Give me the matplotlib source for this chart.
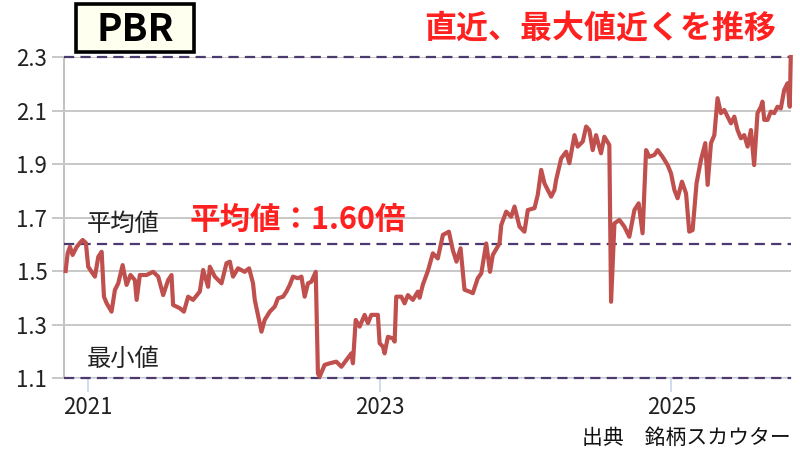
import matplotlib
matplotlib.use('Agg')
import matplotlib.pyplot as plt
from matplotlib.patches import Rectangle

plt.rcParams['font.family'] = ['Noto Sans CJK JP', 'DejaVu Sans']

# PBR series, time as decimal years
years = [
    2020.847, 2020.861, 2020.877, 2020.895, 2020.923, 2020.945, 2020.964, 2020.986,
    2021.002, 2021.025, 2021.048, 2021.071, 2021.094, 2021.110, 2021.128, 2021.162,
    2021.185, 2021.208, 2021.238, 2021.265, 2021.292, 2021.322, 2021.334, 2021.356,
    2021.402, 2021.447, 2021.482, 2021.516, 2021.550, 2021.573, 2021.584, 2021.630,
    2021.658, 2021.687, 2021.721, 2021.767, 2021.790, 2021.824, 2021.836, 2021.870,
    2021.916, 2021.950, 2021.973, 2021.995, 2022.029, 2022.075, 2022.105, 2022.132,
    2022.144, 2022.166, 2022.190, 2022.212, 2022.247, 2022.281, 2022.303, 2022.338,
    2022.361, 2022.384, 2022.406, 2022.440, 2022.464, 2022.486, 2022.509, 2022.532,
    2022.562, 2022.577, 2022.589, 2022.623, 2022.658, 2022.703, 2022.738, 2022.772,
    2022.806, 2022.817, 2022.836, 2022.863, 2022.897, 2022.920, 2022.943, 2022.988,
    2023.000, 2023.023, 2023.034, 2023.057, 2023.091, 2023.103, 2023.114, 2023.149,
    2023.171, 2023.194, 2023.228, 2023.262, 2023.274, 2023.297, 2023.331, 2023.365,
    2023.399, 2023.434, 2023.475, 2023.502, 2023.527, 2023.555, 2023.582, 2023.616,
    2023.639, 2023.673, 2023.697, 2023.731, 2023.757, 2023.776, 2023.822, 2023.834,
    2023.868, 2023.902, 2023.925, 2023.959, 2023.993, 2024.016, 2024.062, 2024.084,
    2024.108, 2024.130, 2024.153, 2024.176, 2024.199, 2024.210, 2024.245, 2024.279,
    2024.301, 2024.336, 2024.358, 2024.393, 2024.416, 2024.438, 2024.461, 2024.484,
    2024.518, 2024.541, 2024.575, 2024.587, 2024.610, 2024.644, 2024.678, 2024.712,
    2024.747, 2024.776, 2024.803, 2024.827, 2024.849, 2024.884, 2024.906, 2024.940,
    2024.975, 2024.998, 2025.021, 2025.043, 2025.073, 2025.101, 2025.123, 2025.146,
    2025.173, 2025.203, 2025.233, 2025.249, 2025.272, 2025.295, 2025.317, 2025.340,
    2025.363, 2025.386, 2025.409, 2025.432, 2025.454, 2025.477, 2025.500, 2025.523,
    2025.546, 2025.568, 2025.591, 2025.614, 2025.625, 2025.637, 2025.660, 2025.683,
    2025.705, 2025.728, 2025.751, 2025.774, 2025.797, 2025.812, 2025.819,
]
pbr = [
    1.500, 1.566, 1.591, 1.560, 1.590, 1.605, 1.616, 1.605,
    1.516, 1.497, 1.479, 1.553, 1.572, 1.404, 1.380, 1.348,
    1.429, 1.454, 1.522, 1.448, 1.485, 1.466, 1.392, 1.485,
    1.485, 1.497, 1.479, 1.410, 1.466, 1.485, 1.373, 1.361,
    1.348, 1.404, 1.392, 1.423, 1.504, 1.441, 1.516, 1.479,
    1.454, 1.529, 1.535, 1.479, 1.510, 1.497, 1.510, 1.454,
    1.392, 1.336, 1.273, 1.317, 1.348, 1.367, 1.398, 1.404,
    1.423, 1.448, 1.479, 1.473, 1.479, 1.404, 1.454, 1.460,
    1.497, 1.117, 1.105, 1.149, 1.155, 1.161, 1.142, 1.167,
    1.192, 1.155, 1.317, 1.292, 1.336, 1.305, 1.336, 1.336,
    1.230, 1.217, 1.192, 1.254, 1.248, 1.236, 1.404, 1.404,
    1.379, 1.410, 1.392, 1.423, 1.400, 1.450, 1.500, 1.566,
    1.547, 1.635, 1.647, 1.578, 1.535, 1.585, 1.430, 1.423,
    1.417, 1.473, 1.491, 1.603, 1.497, 1.560, 1.603, 1.672,
    1.722, 1.703, 1.741, 1.666, 1.647, 1.728, 1.735, 1.784,
    1.878, 1.828, 1.803, 1.778, 1.803, 1.840, 1.921, 1.946,
    1.903, 2.008, 1.965, 1.984, 2.040, 2.027, 1.952, 2.008,
    1.940, 2.002, 1.971, 1.385, 1.678, 1.691, 1.666, 1.628,
    1.728, 1.753, 1.641, 1.952, 1.927, 1.934, 1.952, 1.927,
    1.896, 1.865, 1.803, 1.772, 1.834, 1.790, 1.647, 1.653,
    1.828, 1.915, 1.978, 1.822, 1.978, 2.008, 2.146, 2.090,
    2.102, 2.077, 2.052, 2.077, 2.027, 1.996, 2.008, 1.965,
    2.027, 1.896, 2.090, 2.114, 2.133, 2.065, 2.065, 2.096,
    2.090, 2.114, 2.108, 2.177, 2.202, 2.114, 2.300,
]

pbr_max = 2.30
pbr_avg = 1.60
pbr_min = 1.10
y_ticks = [1.1, 1.3, 1.5, 1.7, 1.9, 2.1, 2.3]
x_ticks = [2021, 2023, 2025]

fig = plt.figure(figsize=(8, 4.5), dpi=100)
ax = fig.add_axes([0.08, 0.16, 0.909, 0.7133])

ax.set_ylim(1.1, 2.3)
ax.set_xlim(2020.836, 2025.822)
ax.set_yticks(y_ticks)
ax.set_yticklabels([f'{v:.1f}' for v in y_ticks])
ax.set_xticks(x_ticks)
ax.set_xticklabels([str(v) for v in x_ticks])

ax.grid(axis='y', color='#c8c8c8', linewidth=1.4, zorder=0)
for s in ['top', 'right']:
    ax.spines[s].set_visible(False)
ax.spines['left'].set_color('#c0c0c0')
ax.spines['left'].set_linewidth(1.4)
ax.spines['left'].set_zorder(1)
ax.spines['bottom'].set_color('#d0dcf0')
ax.spines['bottom'].set_linewidth(1.2)
ax.spines['bottom'].set_zorder(1)
ax.tick_params(axis='y', length=9, width=1.4, color='#c8c8c8',
               labelsize=16, labelcolor='#222222', pad=3)
ax.tick_params(axis='x', length=10, width=1.2, color='#c8d6ee',
               labelsize=16, labelcolor='#222222', pad=3)

# reference lines
dash_kw = dict(color='#4a3a6e', linewidth=1.6, linestyle=(0, (4.6, 2.8)),
               zorder=2, clip_on=False)
for v in [pbr_max, pbr_avg, pbr_min]:
    ax.axhline(v, **dash_kw)

ax.plot(years, pbr, color='#c0504d', linewidth=3.0, zorder=3,
        solid_joinstyle='round', clip_on=False)

# annotations
fig.patches.append(Rectangle((0.095, 0.884), 0.148, 0.107, transform=fig.transFigure,
                             facecolor='#fffff0', edgecolor='black', linewidth=2.6,
                             zorder=5))
fig.text(0.169, 0.934, 'PBR', fontsize=27.5, fontweight='bold', color='black',
         ha='center', va='center', zorder=6)
fig.text(0.75, 0.937, '直近、最大値近くを推移', fontsize=23, fontweight='bold',
         color='#ff2020', ha='center', va='center')
fig.text(0.237, 0.511, '平均値：1.60倍', fontsize=22, fontweight='bold',
         color='#ff2020', ha='left', va='center')
fig.text(0.108, 0.502, '平均値', fontsize=17.5, color='#222222',
         ha='left', va='center')
fig.text(0.108, 0.202, '最小値', fontsize=17.5, color='#222222',
         ha='left', va='center')
fig.text(0.988, 0.026, '出典\u3000銘柄スカウター', fontsize=15, color='#111111',
         ha='right', va='center')

fig.savefig('out.png', dpi=100)
